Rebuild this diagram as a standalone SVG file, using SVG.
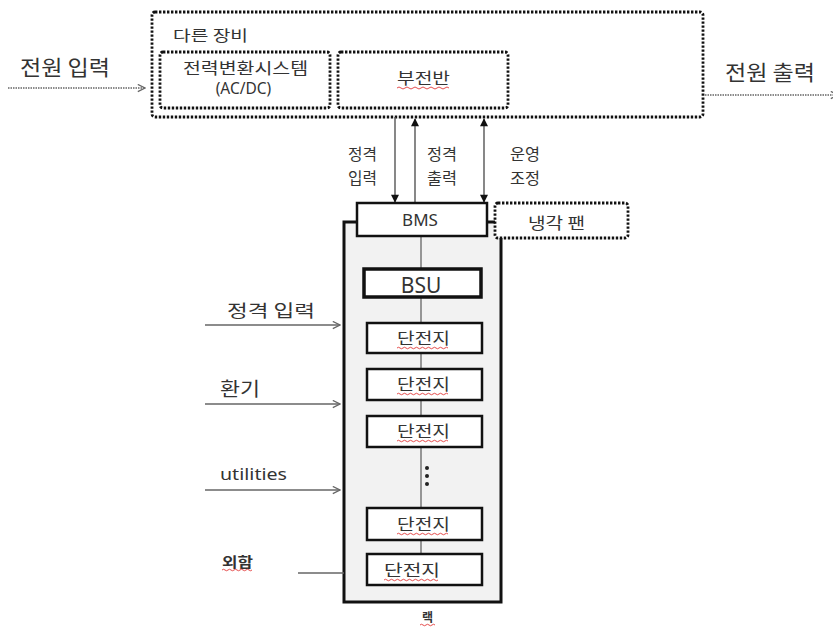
<svg xmlns="http://www.w3.org/2000/svg" width="833" height="629" viewBox="0 0 833 629">
<style>
  .t { font-family: "Noto Sans CJK KR", "Noto Sans", sans-serif; fill: #333; }
  .l { font-family: "Noto Sans", "Open Sans", "Noto Sans CJK KR", sans-serif; fill: #333; }
  .dot { fill: none; stroke: #111; stroke-width: 2.8; stroke-dasharray: 2.4 1.6; }
  .box { fill: #fff; stroke: #111; stroke-width: 2.5; }
  .thick { fill: #fff; stroke: #111; stroke-width: 3.5; }
  .conn { fill: none; stroke: #666; stroke-width: 1.5; }
  .vconn { fill: none; stroke: #555; stroke-width: 1.4; }
  .dash { fill: none; stroke: #666; stroke-width: 1.3; stroke-dasharray: 1.5 1; }
  .sq { fill: none; stroke: #e23a3a; stroke-width: 0.9; }
</style>
<defs>
  <marker id="open" viewBox="0 0 10 10" refX="9" refY="5" markerWidth="9" markerHeight="9" markerUnits="userSpaceOnUse" orient="auto">
    <path d="M1,1 L9,5 L1,9" fill="none" stroke="#666" stroke-width="1.4"/>
  </marker>
  <marker id="tri" viewBox="0 0 10 10" refX="9" refY="5" markerWidth="9" markerHeight="8" markerUnits="userSpaceOnUse" orient="auto-start-reverse">
    <path d="M0,0 L10,5 L0,10 Z" fill="#111"/>
  </marker>
</defs>

<rect width="833" height="629" fill="#fff"/>

<g id="other-equipment">
  <rect class="dot" x="152" y="12" width="551" height="105" rx="3"/>
  <text class="t" x="173" y="41" font-size="15" textLength="75" lengthAdjust="spacingAndGlyphs">다른 장비</text>
</g>
<g id="pcs">
  <rect class="dot" x="160" y="52" width="170" height="56" rx="3"/>
  <text class="t" x="183" y="74" font-size="16" textLength="125" lengthAdjust="spacingAndGlyphs">전력변환시스템</text>
  <text class="l" x="243.5" y="94" font-size="15.5" text-anchor="middle">(AC/DC)</text>
</g>
<g id="subpanel">
  <rect class="dot" x="338" y="52" width="170" height="56" rx="3"/>
  <text class="t" x="397" y="84" font-size="15.5" textLength="53" lengthAdjust="spacingAndGlyphs">부전반</text>
  <path class="sq" d="M397,88 q2,-2 4,0 t4,0 t4,0 t4,0 t4,0 t4,0 t4,0 t4,0 t4,0 t4,0 t4,0 t4,0 t4,0"/>
</g>

<g id="rack">
  <rect x="344" y="222" width="157" height="380" fill="#f2f2f2" stroke="#111" stroke-width="3"/>
  <text class="t" x="427.5" y="622" font-size="12" font-weight="bold" text-anchor="middle">랙</text>
  <path class="sq" d="M420,625 q1.5,-1.5 3,0 t3,0 t3,0 t3,0 t3,0"/>
</g>

<g id="connectors">
  <line class="dash" x1="8" y1="88" x2="145" y2="88" marker-end="url(#open)"/>
  <line class="dash" x1="705" y1="95" x2="838" y2="95" marker-end="url(#open)"/>
  <line class="vconn" x1="395" y1="117" x2="395" y2="202" marker-end="url(#tri)"/>
  <line class="vconn" x1="415" y1="203" x2="415" y2="119" marker-end="url(#tri)"/>
  <line class="vconn" x1="484" y1="119" x2="484" y2="202" marker-start="url(#tri)" marker-end="url(#tri)"/>
  <line x1="421" y1="236" x2="421" y2="554" stroke="#777" stroke-width="1.5"/>
  <line class="conn" x1="205" y1="325" x2="340" y2="325" marker-end="url(#open)"/>
  <line class="conn" x1="205" y1="404" x2="340" y2="404" marker-end="url(#open)"/>
  <line class="conn" x1="205" y1="490" x2="340" y2="490" marker-end="url(#open)"/>
  <line class="conn" x1="298" y1="573" x2="344" y2="573"/>
</g>

<g id="labels">
  <text class="t" x="20" y="75" font-size="21" textLength="90" lengthAdjust="spacingAndGlyphs">전원 입력</text>
  <text class="t" x="725" y="80" font-size="21" textLength="90" lengthAdjust="spacingAndGlyphs">전원 출력</text>
  <text class="t" x="348" y="160" font-size="16" textLength="29" lengthAdjust="spacingAndGlyphs">정격</text>
  <text class="t" x="348" y="184" font-size="16" textLength="29" lengthAdjust="spacingAndGlyphs">입력</text>
  <text class="t" x="427" y="160" font-size="16" textLength="30" lengthAdjust="spacingAndGlyphs">정격</text>
  <text class="t" x="427" y="184" font-size="16" textLength="30" lengthAdjust="spacingAndGlyphs">출력</text>
  <text class="t" x="510" y="160" font-size="16" textLength="30" lengthAdjust="spacingAndGlyphs">운영</text>
  <text class="t" x="510" y="184" font-size="16" textLength="30" lengthAdjust="spacingAndGlyphs">조정</text>
  <text class="t" x="227" y="317" font-size="17" textLength="88" lengthAdjust="spacingAndGlyphs">정격 입력</text>
  <text class="t" x="220" y="396" font-size="19" textLength="40" lengthAdjust="spacingAndGlyphs">환기</text>
  <text class="l" x="220" y="480" font-size="17" textLength="67" lengthAdjust="spacingAndGlyphs">utilities</text>
  <text class="t" x="222" y="567" font-size="14" font-weight="bold" textLength="31" lengthAdjust="spacingAndGlyphs">외함</text>
  <path class="sq" d="M222,570 q1.5,-1.5 3,0 t3,0 t3,0 t3,0 t3,0 t3,0 t3,0 t3,0 t3,0 t3,0"/>
</g>

<g id="bms">
  <rect class="box" x="357" y="203" width="130" height="33"/>
  <text class="l" x="420" y="226" font-size="17" text-anchor="middle">BMS</text>
</g>
<g id="cooling-fan">
  <rect class="dot" x="495" y="203" width="133" height="35" rx="3" style="fill:#fff"/>
  <text class="t" x="528" y="229" font-size="16" textLength="57" lengthAdjust="spacingAndGlyphs">냉각 팬</text>
</g>
<g id="bsu">
  <rect class="thick" x="364" y="269" width="117" height="28"/>
  <text class="l" x="421" y="293" font-size="21" text-anchor="middle">BSU</text>
</g>
<g id="cell1">
  <rect class="box" x="367" y="323" width="115" height="30"/>
  <text class="t" x="397" y="344" font-size="16" textLength="53" lengthAdjust="spacingAndGlyphs">단전지</text>
  <path class="sq" d="M397,348 q1.5,-1.5 3,0 t3,0 t3,0 t3,0 t3,0 t3,0 t3,0 t3,0 t3,0 t3,0 t3,0 t3,0 t3,0 t3,0 t3,0 t3,0 t3,0"/>
</g>
<g id="cell2">
  <rect class="box" x="367" y="369" width="115" height="31"/>
  <text class="t" x="397" y="390" font-size="16" textLength="53" lengthAdjust="spacingAndGlyphs">단전지</text>
  <path class="sq" d="M397,394 q1.5,-1.5 3,0 t3,0 t3,0 t3,0 t3,0 t3,0 t3,0 t3,0 t3,0 t3,0 t3,0 t3,0 t3,0 t3,0 t3,0 t3,0 t3,0"/>
</g>
<g id="cell3">
  <rect class="box" x="367" y="416" width="115" height="31"/>
  <text class="t" x="397" y="437" font-size="16" textLength="53" lengthAdjust="spacingAndGlyphs">단전지</text>
  <path class="sq" d="M397,441 q1.5,-1.5 3,0 t3,0 t3,0 t3,0 t3,0 t3,0 t3,0 t3,0 t3,0 t3,0 t3,0 t3,0 t3,0 t3,0 t3,0 t3,0 t3,0"/>
</g>
<g id="ellipsis">
  <circle cx="427" cy="468" r="2" fill="#222"/>
  <circle cx="427" cy="476" r="2" fill="#222"/>
  <circle cx="427" cy="484" r="2" fill="#222"/>
</g>
<g id="cell4">
  <rect class="box" x="367" y="508" width="115" height="32"/>
  <text class="t" x="397" y="530" font-size="16" textLength="53" lengthAdjust="spacingAndGlyphs">단전지</text>
  <path class="sq" d="M397,534 q1.5,-1.5 3,0 t3,0 t3,0 t3,0 t3,0 t3,0 t3,0 t3,0 t3,0 t3,0 t3,0 t3,0 t3,0 t3,0 t3,0 t3,0 t3,0"/>
</g>
<g id="cell5">
  <rect class="box" x="367" y="554" width="115" height="31"/>
  <text class="t" x="384" y="576" font-size="16" textLength="56" lengthAdjust="spacingAndGlyphs">단전지</text>
  <path class="sq" d="M384,580 q1.5,-1.5 3,0 t3,0 t3,0 t3,0 t3,0 t3,0 t3,0 t3,0 t3,0 t3,0 t3,0 t3,0 t3,0 t3,0 t3,0 t3,0 t3,0 t3,0"/>
</g>
</svg>
